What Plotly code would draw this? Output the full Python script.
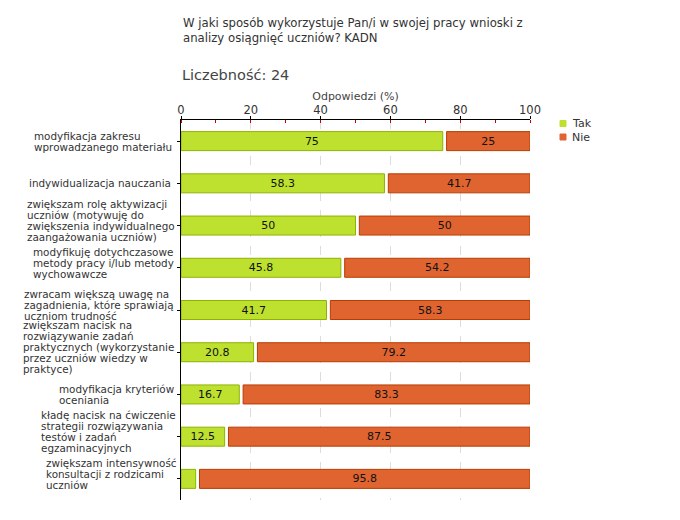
import plotly.graph_objects as go

categories = [
    "modyfikacja zakresu<br>wprowadzanego materiału",
    "indywidualizacja nauczania",
    "zwiększam rolę aktywizacji<br>uczniów (motywuję do<br>zwiększenia indywidualnego<br>zaangażowania uczniów)",
    "modyfikuję dotychczasowe<br>metody pracy i/lub metody<br>wychowawcze",
    "zwracam większą uwagę na<br>zagadnienia, które sprawiają<br>uczniom trudność",
    "zwiększam nacisk na<br>rozwiązywanie zadań<br>praktycznych (wykorzystanie<br>przez uczniów wiedzy w<br>praktyce)",
    "modyfikacja kryteriów<br>oceniania",
    "kładę nacisk na ćwiczenie<br>strategii rozwiązywania<br>testów i zadań<br>egzaminacyjnych",
    "zwiększam intensywność<br>konsultacji z rodzicami<br>uczniów",
]
tak = [75, 58.3, 50, 45.8, 41.7, 20.8, 16.7, 12.5, 4.2]
nie = [25, 41.7, 50, 54.2, 58.3, 79.2, 83.3, 87.5, 95.8]
series_names = ["Tak", "Nie"]
x_ticks = [0, 20, 40, 60, 80, 100]

title_text = "W jaki sposób wykorzystuje Pan/i w swojej pracy wnioski z<br>analizy osiągnięć uczniów? KADN"
count_text = "Liczebność: 24"
x_title = "Odpowiedzi (%)"

# ---- style / layout constants ----
FONT = "DejaVu Sans"
GREEN, GREEN_EDGE = "#BEE130", "#8DB300"
ORANGE, ORANGE_EDGE = "#E06430", "#B83C00"
GAP = 1.1
W, H = 664, 504
L, T, PW, PH = 173, 112, 349, 380
R, B = W - L - PW, H - T - PH
# left edge (px from plot left edge, negative) of each category label block
LABEL_LEFT = [-148.3, -152.7, -155, -149.3, -158.3, -159.3, -122.7, -141, -136]
LINE_H = 11

def px_x(px):
    return px / PW

def px_y(py_from_top):
    return (T + PH - py_from_top) / PH

idx = list(range(len(categories)))

def fmt(v):
    return ("%g" % v) if v >= 5 else ""

fig = go.Figure()
fig.add_trace(go.Bar(
    name=series_names[0], y=idx, x=tak, orientation="h", width=0.45,
    marker=dict(color=GREEN, line=dict(color=GREEN_EDGE, width=1)),
    text=[fmt(v) for v in tak], textposition="inside", insidetextanchor="middle",
    textangle=0, constraintext="none", showlegend=False,
    textfont=dict(family=FONT, size=11, color="#111"),
))
fig.add_trace(go.Bar(
    name=series_names[1], y=idx, x=[n - GAP for n in nie],
    base=[t + GAP for t in tak], orientation="h", width=0.45,
    marker=dict(color=ORANGE, line=dict(color=ORANGE_EDGE, width=1)),
    text=[fmt(v) for v in nie], textposition="inside", insidetextanchor="middle",
    textangle=0, constraintext="none", showlegend=False,
    textfont=dict(family=FONT, size=11, color="#111"),
))

annotations = []
for i, c in enumerate(categories):
    lines = c.split("<br>")
    n = len(lines)
    base_shift = 5 if n >= 3 else 0
    for j, line in enumerate(lines):
        annotations.append(dict(
            text=line, xref="paper", yref="y", x=px_x(LABEL_LEFT[i]), y=i,
            xanchor="left", yanchor="middle", align="left", showarrow=False,
            yshift=-(j - (n - 1) / 2) * LINE_H + base_shift, borderpad=0,
            font=dict(family=FONT, size=10.4, color="#333"),
        ))
annotations.append(dict(
    text=title_text, xref="paper", yref="paper", x=px_x(0), y=px_y(6.4),
    xanchor="left", yanchor="top", align="left", showarrow=False,
    font=dict(family=FONT, size=11.7, color="#333"),
))
annotations.append(dict(
    text=count_text, xref="paper", yref="paper", x=px_x(-1), y=px_y(67),
    xanchor="left", yanchor="middle", align="left", showarrow=False,
    font=dict(family=FONT, size=14.5, color="#444"),
))

# legend (manual, compact like the reference)
shapes = []
for k, (name, col) in enumerate(zip(series_names, [GREEN, ORANGE])):
    cy = 115.5 + k * 13.5
    sx0 = 552 - L
    shapes.append(dict(type="rect", xref="paper", yref="paper",
                       x0=px_x(sx0), x1=px_x(sx0 + 6), y0=px_y(cy + 3), y1=px_y(cy - 3),
                       fillcolor=col, line=dict(color=col, width=1)))
    annotations.append(dict(
        text=name, xref="paper", yref="paper", x=px_x(sx0 + 10), y=px_y(cy),
        xanchor="left", yanchor="middle", showarrow=False,
        font=dict(family=FONT, size=11, color="#333"),
    ))

fig.update_layout(
    width=W, height=H,
    margin=dict(l=L, r=R, t=T, b=B),
    paper_bgcolor="white", plot_bgcolor="white",
    barmode="overlay",
    font=dict(family=FONT, size=11, color="#333"),
    showlegend=False,
    annotations=annotations,
    shapes=shapes,
    xaxis=dict(
        side="top", range=[0, 100], tickvals=x_ticks, ticks="outside",
        ticklen=3, tickcolor="black", showline=True, linecolor="black",
        linewidth=1, showgrid=True, gridcolor="#dddddd", griddash="dash",
        zeroline=False, tickfont=dict(family=FONT, size=11.5, color="#333"),
        ticklabelstandoff=-3,
        title=dict(text=x_title, font=dict(family=FONT, size=11, color="#444"), standoff=0),
        minor=dict(dtick=10, ticks="inside", ticklen=3, tickcolor="#CC0000", showgrid=False),
    ),
    yaxis=dict(
        range=[8.5, -0.5], showticklabels=False, ticks="outside", ticklen=3,
        tickcolor="black", tickvals=idx, showline=True, linecolor="black",
        linewidth=1, showgrid=False, zeroline=False,
    ),
)

fig.write_html("out.html")
